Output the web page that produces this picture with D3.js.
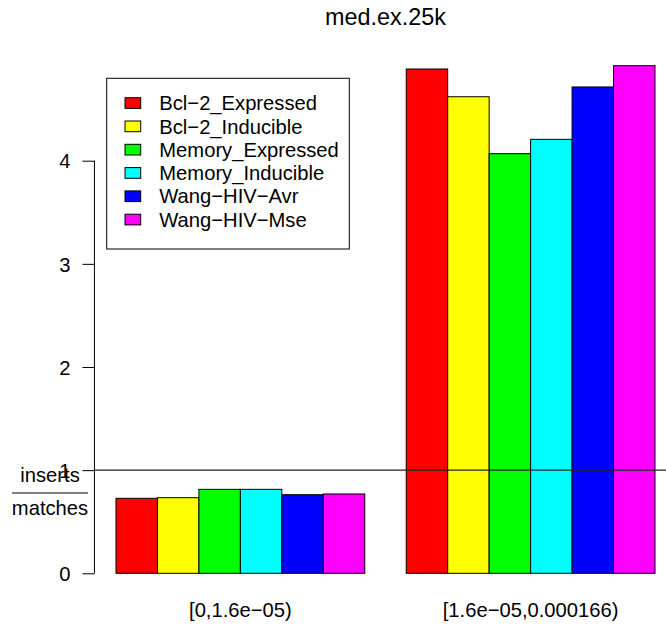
<!DOCTYPE html>
<html>
<head>
<meta charset="utf-8">
<script src="https://cdn.jsdelivr.net/npm/d3@7"></script>
<style>
  html, body { margin: 0; padding: 0; background: #fff; }
  svg { display: block; font-family: "Liberation Sans", Arial, Helvetica, sans-serif; }
</style>
</head>
<body>
<svg id="chart" width="666" height="627"></svg>
<script>
// Bin labels along the x axis
const categories = ["[0,1.6e\u221205)", "[1.6e\u221205,0.000166)"];

// One series per dataset, one value per bin
const seriesNames = [
  "Bcl\u22122_Expressed",
  "Bcl\u22122_Inducible",
  "Memory_Expressed",
  "Memory_Inducible",
  "Wang\u2212HIV\u2212Avr",
  "Wang\u2212HIV\u2212Mse"
];
const bcl2Expressed    = [0.727, 4.889];
const bcl2Inducible    = [0.733, 4.620];
const memoryExpressed  = [0.814, 4.068];
const memoryInducible  = [0.814, 4.207];
const wangHivAvr       = [0.762, 4.715];
const wangHivMse       = [0.769, 4.921];
const seriesValues = [bcl2Expressed, bcl2Inducible, memoryExpressed, memoryInducible, wangHivAvr, wangHivMse];
const seriesColors = ["#ff0000", "#ffff00", "#00ff00", "#00ffff", "#0000ff", "#ff00ff"];

const yTicks = [0, 1, 2, 3, 4];
const refLevel = 1;
const title = "med.ex.25k";

const svg = d3.select("#chart");
const FS = 20.2;

// Bar slots in barplot units: each group of 6 bars followed by a 1-unit gap
const nS = seriesNames.length;
const bars = [];
categories.forEach((c, gi) => {
  seriesValues.forEach((vals, si) => {
    const left = gi * (nS + 1) + 1 + si;
    bars.push({ left, right: left + 1, value: vals[gi], color: seriesColors[si] });
  });
});
const uMin = d3.min(bars, d => d.left), uMax = d3.max(bars, d => d.right);
const pad = (uMax - uMin) * 0.04;

const x = d3.scaleLinear().domain([uMin, uMax]).range([116, 655]);
const y = d3.scaleLinear().domain([0, 4]).range([573.3, 160.7]);

const plotLeft = x(uMin - pad), plotRight = x(uMax + pad);

// Title
svg.append("text")
  .attr("x", (plotLeft + plotRight) / 2).attr("y", 25)
  .attr("text-anchor", "middle")
  .attr("font-size", 23.4)
  .text(title);

// Bars
svg.append("g").selectAll("rect").data(bars).join("rect")
  .attr("x", d => x(d.left))
  .attr("width", d => x(d.right) - x(d.left))
  .attr("y", d => y(d.value))
  .attr("height", d => y(0) - y(d.value))
  .attr("fill", d => d.color)
  .attr("stroke", "#000")
  .attr("stroke-width", 1);

// Reference line at ratio 1
svg.append("line")
  .attr("x1", plotLeft).attr("x2", plotRight)
  .attr("y1", y(refLevel)).attr("y2", y(refLevel))
  .attr("stroke", "#222").attr("stroke-width", 1.2);

// Y axis
const yAxis = d3.axisLeft(y).tickValues(yTicks).tickFormat(d3.format("d")).tickSize(12).tickPadding(12);
const ga = svg.append("g").attr("transform", `translate(${plotLeft},0)`).call(yAxis);
ga.select(".domain").attr("stroke", "#000").attr("d", `M-0,${y(0)}V${y(4)}`);
ga.selectAll(".tick line").attr("stroke", "#000");
ga.selectAll(".tick text").attr("font-size", FS).attr("fill", "#000")
  .attr("font-family", "Liberation Sans, Arial, sans-serif").attr("dy", "0.36em");

// Y axis label as a fraction
const fx = 50, fy = 493;
svg.append("text").attr("x", fx).attr("y", 482).attr("text-anchor", "middle")
  .attr("font-size", FS).text("inserts");
svg.append("line").attr("x1", 12).attr("x2", 88).attr("y1", fy).attr("y2", fy)
  .attr("stroke", "#555").attr("stroke-width", 1.5);
svg.append("text").attr("x", fx).attr("y", 515).attr("text-anchor", "middle")
  .attr("font-size", FS).text("matches");

// Category labels
svg.append("g").selectAll("text").data(categories).join("text")
  .attr("x", (d, gi) => {
    const gb = bars.slice(gi * nS, gi * nS + nS);
    return (x(gb[0].left) + x(gb[nS - 1].right)) / 2;
  })
  .attr("y", 617)
  .attr("text-anchor", "middle")
  .attr("font-size", FS)
  .text(d => d);

// Legend
const lg = svg.append("g");
lg.append("rect").attr("x", 106.7).attr("y", 78.3).attr("width", 242.6).attr("height", 170.7)
  .attr("fill", "#fff").attr("stroke", "#000").attr("stroke-width", 1);
const rows = lg.selectAll("g.row").data(seriesNames).join("g").attr("class", "row")
  .attr("transform", (d, i) => `translate(0,${103 + i * 23.3})`);
rows.append("rect").attr("x", 125).attr("y", -5.3).attr("width", 15.7).attr("height", 10.7)
  .attr("fill", (d, i) => seriesColors[i]).attr("stroke", "#000").attr("stroke-width", 1);
rows.append("text").attr("x", 159.3).attr("y", 0).attr("dy", "0.36em")
  .attr("font-size", FS).text(d => d);
</script>
</body>
</html>
